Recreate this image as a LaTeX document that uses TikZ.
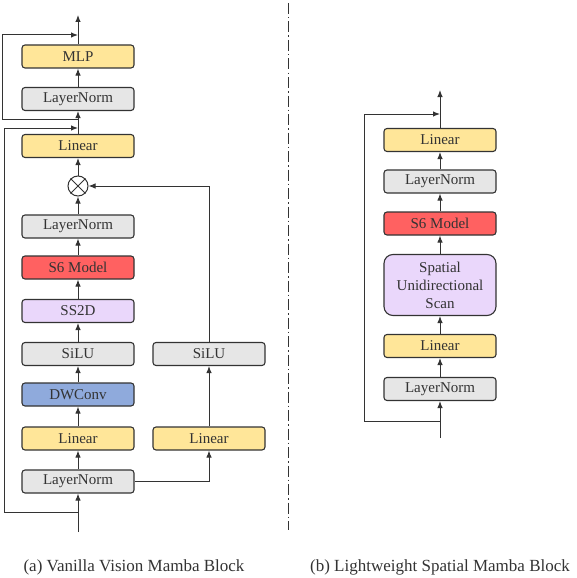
\documentclass[tikz,border=0pt]{standalone}
\usepackage{fontspec}
\setmainfont{Liberation Serif}
\usetikzlibrary{arrows.meta}

\definecolor{cyellow}{HTML}{FFE699}
\definecolor{cgray}{HTML}{E6E6E6}
\definecolor{cred}{HTML}{FF6161}
\definecolor{cpurple}{HTML}{EAD7FB}
\definecolor{cblue}{HTML}{8FAADC}
\definecolor{cline}{HTML}{333333}

\tikzset{
    blk/.style={draw=cline, line width=1.1pt, rounded corners=3pt,
        minimum width=112pt, minimum height=23pt, inner sep=0pt,
        text=cline, font=\fontsize{15}{18}\selectfont},
    flow/.style={line width=1pt, draw=cline, -{Latex[length=7pt,width=5.5pt]}},
    link/.style={line width=1pt, draw=cline},
}

\begin{document}
\begin{tikzpicture}[x=1pt, y=-1pt]
    \useasboundingbox (0,0) rectangle (576,578);

    % (a) 左侧主干
    \node[blk, fill=cgray]   (lnA)    at (78,481.5) {LayerNorm};
    \node[blk, fill=cyellow] (linA)   at (78,438.5) {Linear};
    \node[blk, fill=cblue]   (dwc)    at (78,394.5) {DWConv};
    \node[blk, fill=cgray]   (siluA)  at (78,354)   {SiLU};
    \node[blk, fill=cpurple] (ssd)    at (78,311)   {SS2D};
    \node[blk, fill=cred]    (sixA)   at (78,267.5) {S6 Model};
    \node[blk, fill=cgray]   (lnB)    at (78,226.5) {LayerNorm};
    \node[draw=cline, line width=1pt, circle, minimum size=20pt, inner sep=0pt]
        (mul) at (78,186) {};
    \draw[link] (mul.north west) -- (mul.south east);
    \draw[link] (mul.north east) -- (mul.south west);
    \node[blk, fill=cyellow] (linB)   at (78,146)   {Linear};
    \node[blk, fill=cgray]   (lnC)    at (78,99)    {LayerNorm};
    \node[blk, fill=cyellow] (mlp)    at (78,56.5)  {MLP};

    % (a) 右侧分支
    \node[blk, fill=cyellow] (linR)   at (209,438.5) {Linear};
    \node[blk, fill=cgray]   (siluR)  at (209,354)   {SiLU};

    % 端点
    \coordinate (inA)  at (78,532);
    \coordinate (outA) at (78,15);
    \coordinate (resA) at (78,512);
    \coordinate (addA) at (78,128);
    \coordinate (resB) at (78,119);
    \coordinate (addB) at (78,35);

    % 主干连线
    \draw[flow] (inA) -- (lnA);
    \draw[flow] (lnA) -- (linA);
    \draw[flow] (linA) -- (dwc);
    \draw[flow] (dwc) -- (siluA);
    \draw[flow] (siluA) -- (ssd);
    \draw[flow] (ssd) -- (sixA);
    \draw[flow] (sixA) -- (lnB);
    \draw[flow] (lnB) -- (mul);
    \draw[flow] (mul) -- (linB);
    \draw[flow] (linB) -- (lnC);
    \draw[flow] (lnC) -- (mlp);
    \draw[flow] (mlp) -- (outA);

    % 分支
    \draw[flow] (lnA.east) -| (linR);
    \draw[flow] (linR) -- (siluR);
    \draw[flow] (siluR.north) |- (mul.east);

    % 残差
    \draw[link] (resA) -- (4,512) -- (4,128);
    \draw[flow] (4,128) -- (addA);
    \draw[link] (resB) -- (2,119) -- (2,35);
    \draw[flow] (2,35) -- (addB);

    % 分隔线
    \draw[line width=1pt, cline, dash pattern=on 11pt off 3pt on 1.5pt off 3pt]
        (288,3) -- (288,530);

    % (b)
    \node[blk, fill=cgray]   (lnD)   at (440,389)   {LayerNorm};
    \node[blk, fill=cyellow] (linD)  at (440,346)   {Linear};
    \node[blk, fill=cpurple, rounded corners=9pt, minimum height=61pt,
        align=center] (scan) at (440,285)
        {Spatial\\Unidirectional\\Scan};
    \node[blk, fill=cred]    (sixB)  at (440,223.5) {S6 Model};
    \node[blk, fill=cgray]   (lnE)   at (440,181.5) {LayerNorm};
    \node[blk, fill=cyellow] (linE)  at (440,140)   {Linear};

    \coordinate (inB)  at (440,438);
    \coordinate (outB) at (440,90);
    \coordinate (resC) at (440,421);
    \coordinate (addC) at (440,114);

    \draw[flow] (inB) -- (lnD);
    \draw[flow] (lnD) -- (linD);
    \draw[flow] (linD) -- (scan);
    \draw[flow] (scan) -- (sixB);
    \draw[flow] (sixB) -- (lnE);
    \draw[flow] (lnE) -- (linE);
    \draw[flow] (linE) -- (outB);
    \draw[link] (resC) -- (364,421) -- (364,114);
    \draw[flow] (364,114) -- (addC);

    % 标题
    \node[text=cline, font=\fontsize{17}{19}\selectfont] (capA) at (134,567) {(a) Vanilla Vision Mamba Block};
    \node[text=cline, font=\fontsize{17}{19}\selectfont] (capB) at (440,567) {(b) Lightweight Spatial Mamba Block};
\end{tikzpicture}
\end{document}
